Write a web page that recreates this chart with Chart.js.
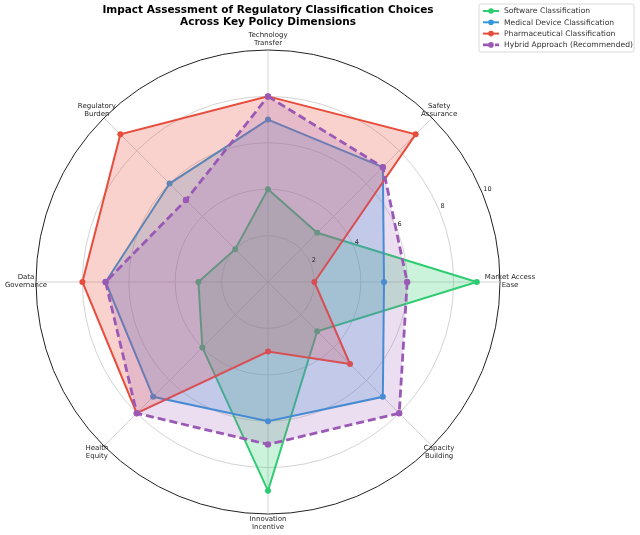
<!DOCTYPE html>
<html>
<head>
<meta charset="utf-8">
<script src="https://cdn.jsdelivr.net/npm/chart.js@4/dist/chart.umd.min.js"></script>
<style>
    body { margin: 0; background: #fff; }
    canvas { display: block; }
</style>
</head>
<body>
<canvas id="radarChart" width="640" height="535"></canvas>
<script>
        // Axis labels, clockwise from the top
        const dimensions = [
            ['Technology', 'Transfer'],
            ['Safety', 'Assurance'],
            ['Market Access', 'Ease'],
            ['Capacity', 'Building'],
            ['Innovation', 'Incentive'],
            ['Health', 'Equity'],
            ['Data', 'Governance'],
            ['Regulatory', 'Burden']
        ];

        // Scores per classification (same order as dimensions)
        const softwareScores = [4, 3, 9, 3, 9, 4, 3, 2];
        const medicalDeviceScores = [7, 7, 5, 7, 6, 7, 7, 6];
        const pharmaceuticalScores = [8, 9, 2, 5, 3, 8, 8, 9];
        const hybridScores = [8, 7, 6, 8, 7, 8, 7, 5];

        const tickValues = [2, 4, 6, 8, 10];

        const titleLines = [
            'Impact Assessment of Regulatory Classification Choices',
            'Across Key Policy Dimensions'
        ];

        const fontFamily = '"DejaVu Sans", Verdana, sans-serif';

        // Draws axis labels, tick labels, title and legend like the original figure
        const decorations = {
            id: 'decorations',
            afterDraw(chart) {
                const ctx = chart.ctx;
                const scale = chart.scales.r;
                ctx.save();

                // axis labels
                ctx.fillStyle = '#262626';
                ctx.font = '7px ' + fontFamily;
                ctx.textAlign = 'center';
                ctx.textBaseline = 'middle';
                dimensions.forEach((label, i) => {
                    const pos = scale.getPointPosition(i, scale.drawingArea + 10);
                    label.forEach((line, j) => {
                        ctx.fillText(line, pos.x, pos.y - 1 + (j - (label.length - 1) / 2) * 8.3);
                    });
                });

                // radial tick labels at 22.5 degrees
                ctx.textAlign = 'left';
                ctx.textBaseline = 'bottom';
                ctx.font = '6.5px ' + fontFamily;
                tickValues.forEach(v => {
                    const d = scale.getDistanceFromCenterForValue(v);
                    const pos = scale.getPointPosition(1.5, d);
                    ctx.fillText(String(v), pos.x + 1, pos.y - 1);
                });

                // title
                ctx.fillStyle = '#000';
                ctx.font = 'bold 10.5px ' + fontFamily;
                ctx.textAlign = 'center';
                ctx.textBaseline = 'middle';
                titleLines.forEach((line, i) => {
                    ctx.fillText(line, scale.xCenter, 10 + i * 12);
                });

                // legend
                const lx = 479, ly = 4, lw = 155, lh = 48;
                ctx.fillStyle = 'rgba(255,255,255,0.85)';
                ctx.strokeStyle = '#d0d0d0';
                ctx.lineWidth = 0.8;
                ctx.beginPath();
                ctx.roundRect(lx, ly, lw, lh, 2);
                ctx.fill();
                ctx.stroke();
                ctx.font = '7.6px ' + fontFamily;
                ctx.textAlign = 'left';
                chart.data.datasets.forEach((ds, i) => {
                    const y = ly + 7 + i * 11.3;
                    ctx.strokeStyle = ds.borderColor;
                    ctx.lineWidth = ds.borderWidth;
                    ctx.setLineDash(ds.borderDash || []);
                    ctx.beginPath();
                    ctx.moveTo(lx + 4, y);
                    ctx.lineTo(lx + 20, y);
                    ctx.stroke();
                    ctx.setLineDash([]);
                    ctx.fillStyle = ds.borderColor;
                    ctx.beginPath();
                    ctx.arc(lx + 12, y, 2.8, 0, Math.PI * 2);
                    ctx.fill();
                    ctx.fillStyle = '#333';
                    ctx.fillText(ds.label, lx + 25, y + 0.5);
                });

                ctx.restore();
            }
        };

        new Chart(document.getElementById('radarChart'), {
            type: 'radar',
            data: {
                labels: dimensions,
                datasets: [{
                    label: 'Software Classification',
                    data: softwareScores,
                    borderColor: '#2ecc71',
                    backgroundColor: 'rgba(46, 204, 113, 0.25)',
                    borderWidth: 2,
                    pointRadius: 3,
                    pointBackgroundColor: '#2ecc71',
                    pointBorderWidth: 0,
                    fill: true,
                    order: 4
                }, {
                    label: 'Medical Device Classification',
                    data: medicalDeviceScores,
                    borderColor: '#3498db',
                    backgroundColor: 'rgba(52, 152, 219, 0.25)',
                    borderWidth: 2,
                    pointRadius: 3,
                    pointBackgroundColor: '#3498db',
                    pointBorderWidth: 0,
                    fill: true,
                    order: 3
                }, {
                    label: 'Pharmaceutical Classification',
                    data: pharmaceuticalScores,
                    borderColor: '#e74c3c',
                    backgroundColor: 'rgba(231, 76, 60, 0.25)',
                    borderWidth: 2,
                    pointRadius: 3,
                    pointBackgroundColor: '#e74c3c',
                    pointBorderWidth: 0,
                    fill: true,
                    order: 2
                }, {
                    label: 'Hybrid Approach (Recommended)',
                    data: hybridScores,
                    borderColor: '#9b59b6',
                    backgroundColor: 'rgba(155, 89, 182, 0.2)',
                    borderWidth: 2.8,
                    borderDash: [8, 4],
                    pointRadius: 3.2,
                    pointBackgroundColor: '#9b59b6',
                    pointBorderWidth: 0,
                    fill: true,
                    order: 1
                }]
            },
            options: {
                responsive: false,
                animation: false,
                devicePixelRatio: 1,
                layout: {
                    padding: { left: 36, top: 50, right: 140, bottom: 21 }
                },
                plugins: {
                    legend: { display: false },
                    title: { display: false },
                    tooltip: { enabled: false }
                },
                elements: {
                    line: { tension: 0 }
                },
                scales: {
                    r: {
                        min: 0,
                        max: 10,
                        ticks: {
                            display: false,
                            stepSize: 2
                        },
                        pointLabels: { display: false },
                        grid: {
                            circular: true,
                            color: ctx => ctx.tick.value === 10 ? '#222' : '#c8c8c8',
                            lineWidth: ctx => ctx.tick.value === 10 ? 1 : 0.8
                        },
                        angleLines: {
                            color: '#c8c8c8',
                            lineWidth: 0.8
                        }
                    }
                }
            },
            plugins: [decorations]
        });
</script>
</body>
</html>
